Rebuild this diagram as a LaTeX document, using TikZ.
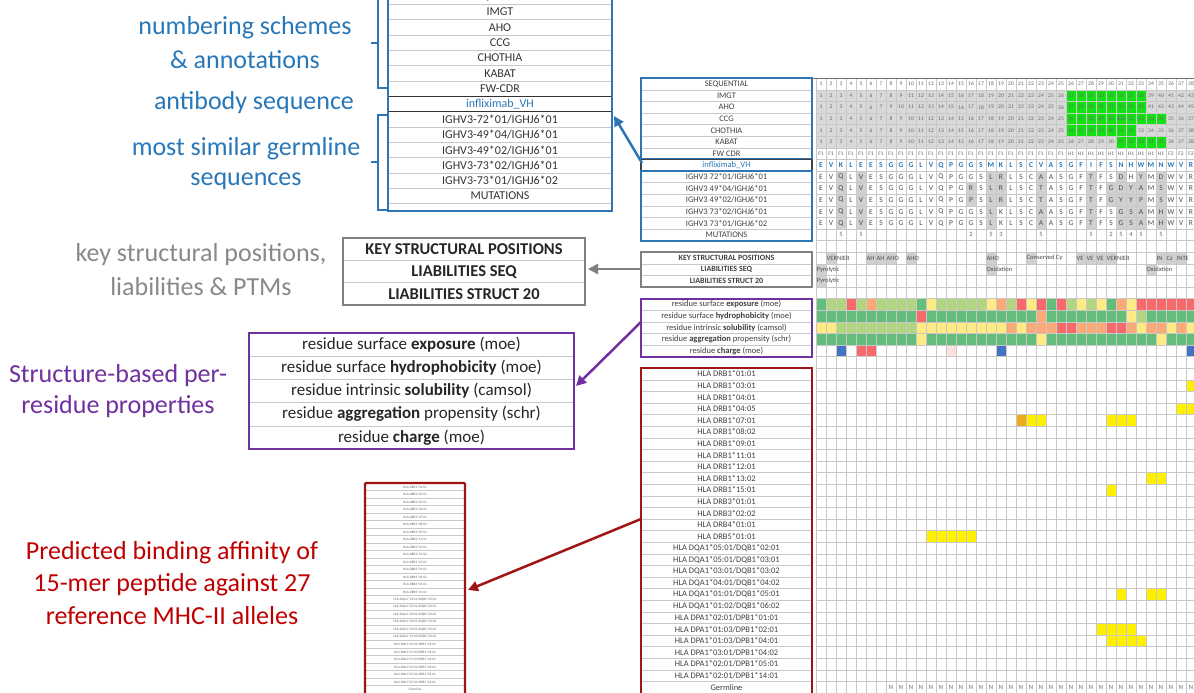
\documentclass[tikz,border=0pt]{standalone}
\usepackage{fontspec}
\setmainfont{Carlito}
\usetikzlibrary{arrows.meta}
\definecolor{blueC}{RGB}{46,117,182}
\definecolor{blueT}{RGB}{40,120,185}
\definecolor{grayT}{RGB}{137,137,137}
\definecolor{grayB}{RGB}{127,127,127}
\definecolor{purpC}{RGB}{112,48,160}
\definecolor{redT}{RGB}{192,0,0}
\definecolor{redB}{RGB}{160,20,20}
\definecolor{cellG}{RGB}{217,217,217}
\definecolor{shadeC}{RGB}{208,208,208}
\definecolor{grn}{RGB}{20,225,20}
\definecolor{hG}{RGB}{99,190,123}
\definecolor{hL}{RGB}{177,213,128}
\definecolor{hY}{RGB}{255,235,132}
\definecolor{hO}{RGB}{251,170,119}
\definecolor{hR}{RGB}{248,105,107}
\definecolor{hB}{RGB}{68,114,196}
\definecolor{hW}{RGB}{255,255,255}
\definecolor{hP}{RGB}{252,225,225}
\definecolor{yel}{RGB}{255,240,0}
\definecolor{org}{RGB}{240,170,30}
\definecolor{gridC}{RGB}{200,200,200}
\newcommand\cf[3]{\fill[#3] ({806+10*(#1)},{78.2+11.6*(#2)}) rectangle ++(10,11.6);}
\tikzset{
 bigtxt/.style={font=\fontsize{26}{30}\selectfont, inner sep=0pt},
 tltxt/.style={font=\fontsize{12}{12}\selectfont, text=black!80, inner sep=0pt},
 boxtxt/.style={font=\fontsize{17}{17}\selectfont, text=black!85, inner sep=0pt},
 lbl/.style={font=\fontsize{8.5}{8.5}\selectfont, text=black!75, inner sep=0pt},
 cellnum/.style={font=\fontsize{5.5}{5.5}\selectfont, text=black!60, inner sep=0pt},
 seqlet/.style={font=\fontsize{7.5}{7.5}\selectfont, text=black!70, inner sep=0pt},
 anntxt/.style={font=\fontsize{6.5}{6.5}\selectfont, text=black!70, inner sep=0pt, anchor=west},
 tinytxt/.style={font=\fontsize{3.4}{3.4}\selectfont, text=black!60, inner sep=0pt},
 arrowsty/.style={line width=2.5pt, -{Triangle[length=10pt,width=10pt]}},
}
\begin{document}
\begin{tikzpicture}[x=1pt,y=-1pt]
\useasboundingbox (0,0) rectangle (1194,693);
\clip (0,0) rectangle (1194,693);
\fill[white] (0,0) rectangle (1194,693);

% ================= right big table: fills =================
\fill[cellG] (816,{78.2+11.6}) rectangle (1196,{78.2+11.6*6});
\foreach \c in {26,...,33} {\cf{\c}{1}{grn}\cf{\c}{2}{grn}}
\foreach \c in {26,...,35} {\cf{\c}{3}{grn}}
\foreach \c in {26,...,32} {\cf{\c}{4}{grn}}
\foreach \c in {31,...,35} {\cf{\c}{5}{grn}}
% germline differences
\foreach \c/\r in {3/8,5/8,18/8,19/8,23/8,28/8,31/8,33/8,35/8,
  3/9,5/9,16/9,18/9,19/9,23/9,28/9,30/9,31/9,32/9,33/9,35/9,
  3/10,5/10,16/10,18/10,19/10,23/10,28/10,30/10,31/10,32/10,33/10,35/10,
  3/11,5/11,18/11,23/11,28/11,31/11,32/11,33/11,35/11,
  3/12,5/12,18/12,23/12,28/12,31/12,32/12,33/12,35/12} {\cf{\c}{\r}{shadeC}}
% key structural / liabilities
\foreach \c/\r in {2/15,6/15,7/15,8/15,10/15,18/15,22/15,27/15,28/15,29/15,30/15,35/15,36/15,37/15,1/16,18/16,34/16,1/17} {\cf{\c}{\r}{shadeC}}
% heatmaps
\foreach \h [count=\c] in {hG,hL,hL,hR,hL,hO,hL,hL,hL,hL,hG,hY,hL,hL,hL,hL,hL,hY,hO,hL,hR,hY,hR,hG,hR,hL,hY,hL,hY,hG,hO,hY,hR,hR,hR,hR,hR,hR} {\cf{\c}{19}{\h}}
\foreach \c in {1,...,38} {\cf{\c}{20}{hG}\cf{\c}{22}{hG}}
\cf{11}{20}{hR}\cf{23}{20}{hO}\cf{32}{20}{hY}\cf{33}{20}{hL}
\cf{11}{22}{hY}\cf{23}{22}{hY}\cf{35}{22}{hY}
\foreach \h [count=\c] in {hY,hY,hL,hL,hL,hL,hL,hL,hL,hL,hY,hY,hY,hY,hY,hY,hY,hY,hY,hO,hY,hO,hO,hO,hR,hR,hO,hO,hO,hR,hR,hO,hY,hO,hO,hY,hO,hY} {\cf{\c}{21}{\h}}
\cf{3}{23}{hB}\cf{5}{23}{hR}\cf{6}{23}{hR}\cf{14}{23}{hP}\cf{19}{23}{hB}\cf{38}{23}{hB}
% HLA predictions
\foreach \c/\r in {38/26,37/28,38/28,22/29,23/29,30/29,31/29,32/29,34/34,35/34,30/35,
  12/39,13/39,14/39,15/39,16/39,31/44,34/44,35/44,29/47,30/47,31/47,32/47,30/48,31/48,32/48,33/48} {\cf{\c}{\r}{yel}}
\cf{21}{29}{org}

% ================= grid =================
\foreach \r in {0,...,53} {\draw[gridC, line width=0.4pt] (816,{78.2+11.6*\r}) -- (1196,{78.2+11.6*\r});}
\foreach \c in {0,...,38} {\draw[gridC, line width=0.4pt] ({816+10*\c},78.2) -- ({816+10*\c},693);}
\draw[black!55, line width=0.8pt] (812,78.2) -- (1196,78.2);

% ================= cell texts =================
\foreach \c in {1,...,38} {\node[cellnum] at ({811+10*\c},84) {\c};}
\foreach \v [count=\c] in {1,2,3,4,5,6,7,8,9,11,12,13,14,15,16,17,18,19,20,21,22,23,24,25,26,27,28,29,30,35,36,37,38,39,40,41,42,43} {\node[cellnum] at ({811+10*\c},{84+11.6}) {\v};}
\foreach \v [count=\c] in {1,2,3,4,5,6,7,9,10,11,12,13,14,15,16,17,18,19,20,21,22,23,24,25,26,27,29,30,31,32,33,39,40,41,42,43,44,45} {\node[cellnum] at ({811+10*\c},{84+11.6*2}) {\v};}
\foreach \v [count=\c] in {1,2,3,4,5,6,7,8,9,10,11,12,13,14,15,16,17,18,19,20,21,22,23,24,25,26,27,28,29,30,30A,31,32,33,34,35,36,37} {\node[cellnum] at ({811+10*\c},{84+11.6*3}) {\v};}
\foreach \c in {1,...,38} {\node[cellnum] at ({811+10*\c},{84+11.6*4}) {\c}; \node[cellnum] at ({811+10*\c},{84+11.6*5}) {\c};}
\foreach \c in {1,...,25} {\node[cellnum] at ({811+10*\c},{84+11.6*6}) {F1};}
\foreach \c in {26,...,35} {\node[cellnum] at ({811+10*\c},{84+11.6*6}) {H1};}
\foreach \c in {36,37,38} {\node[cellnum] at ({811+10*\c},{84+11.6*6}) {F2};}
\foreach \l [count=\c] in {E,V,K,L,E,E,S,G,G,G,L,V,Q,P,G,G,S,M,K,L,S,C,V,A,S,G,F,I,F,S,N,H,W,M,N,W,V,R} {\node[seqlet, text=blueT, font=\fontsize{7.5}{7.5}\selectfont\bfseries] at ({811+10*\c},{84+11.6*7}) {\l};}
\foreach \l [count=\c] in {E,V,Q,L,V,E,S,G,G,G,L,V,Q,P,G,G,S,L,R,L,S,C,A,A,S,G,F,T,F,S,D,H,Y,M,D,W,V,R} {\node[seqlet] at ({811+10*\c},{84+11.6*8}) {\l};}
\foreach \l [count=\c] in {E,V,Q,L,V,E,S,G,G,G,L,V,Q,P,G,R,S,L,R,L,S,C,T,A,S,G,F,T,F,G,D,Y,A,M,S,W,V,R} {\node[seqlet] at ({811+10*\c},{84+11.6*9}) {\l};}
\foreach \l [count=\c] in {E,V,Q,L,V,E,S,G,G,G,L,V,Q,P,G,P,S,L,R,L,S,C,T,A,S,G,F,T,F,G,Y,Y,P,M,S,W,V,R} {\node[seqlet] at ({811+10*\c},{84+11.6*10}) {\l};}
\foreach \l [count=\c] in {E,V,Q,L,V,E,S,G,G,G,L,V,Q,P,G,G,S,L,K,L,S,C,A,A,S,G,F,T,F,S,G,S,A,M,H,W,V,R} {\node[seqlet] at ({811+10*\c},{84+11.6*11}) {\l}; \node[seqlet] at ({811+10*\c},{84+11.6*12}) {\l};}
\foreach \c/\v in {3/5,5/5,16/2,18/5,19/3,23/5,28/5,30/2,31/5,32/4,33/5,35/5} {\node[cellnum, font=\fontsize{6.5}{6.5}\selectfont] at ({811+10*\c},{84+11.6*13}) {\v};}
\foreach \c/\t in {2/VERNIER,6/AH,7/AH,8/AHO,10/AHO,18/AHO,22/Conserved Cy,27/VE,28/VE,29/VE,30/VERNIER,35/IN,36/Cz,37/INTE} {\node[anntxt] at ({806.5+10*\c},{84+11.6*15}) {\t};}
\foreach \c/\t in {1/Pyrolytic,18/Oxidation,34/Oxidation} {\node[anntxt] at ({806.5+10*\c},{84+11.6*16}) {\t};}
\node[anntxt] at (816.5,{84+11.6*17}) {Pyrolytic};
\foreach \c in {8,...,38} {\node[cellnum, font=\fontsize{6.5}{6.5}\selectfont] at ({811+10*\c},{84+11.6*52}) {N};}

% ================= right label column =================
\fill[white] (641,78.2) rectangle (812,693);
\foreach \r in {1,...,13,16,17,20,21,22,23,26,27,...,52} {\draw[gridC, line width=0.4pt] (641,{78.2+11.6*\r}) -- (812,{78.2+11.6*\r});}
\foreach \t [count=\i from 0] in {SEQUENTIAL,IMGT,AHO,CCG,CHOTHIA,KABAT,FW CDR} {\node[lbl] (R\i) at (726.5,{84+11.6*\i}) {\t};}
\node[lbl, text=blueT] (R7) at (726.5,{84+11.6*7}) {infliximab\_VH};
\foreach \t [count=\i from 8] in {IGHV3 72*01/IGHJ6*01,IGHV3 49*04/IGHJ6*01,IGHV3 49*02/IGHJ6*01,IGHV3 73*02/IGHJ6*01,IGHV3 73*01/IGHJ6*02,MUTATIONS} {\node[lbl] (R\i) at (726.5,{84+11.6*\i}) {\t};}
\node[lbl, font=\fontsize{8}{8}\selectfont\bfseries] (R15) at (726.5,{84+11.6*15}) {KEY STRUCTURAL POSITIONS};
\node[lbl, font=\fontsize{8}{8}\selectfont\bfseries] (R16) at (726.5,{84+11.6*16}) {LIABILITIES SEQ};
\node[lbl, font=\fontsize{8}{8}\selectfont\bfseries] (R17) at (726.5,{84+11.6*17}) {LIABILITIES STRUCT 20};
\node[lbl] (R19) at (726.5,{84+11.6*19}) {residue surface \textbf{exposure} (moe)};
\node[lbl] (R20) at (726.5,{84+11.6*20}) {residue surface \textbf{hydrophobicity} (moe)};
\node[lbl] (R21) at (726.5,{84+11.6*21}) {residue intrinsic \textbf{solubility} (camsol)};
\node[lbl] (R22) at (726.5,{84+11.6*22}) {residue \textbf{aggregation} propensity (schr)};
\node[lbl] (R23) at (726.5,{84+11.6*23}) {residue \textbf{charge} (moe)};
\foreach \t [count=\i from 25] in {HLA DRB1*01:01,HLA DRB1*03:01,HLA DRB1*04:01,HLA DRB1*04:05,HLA DRB1*07:01,HLA DRB1*08:02,HLA DRB1*09:01,HLA DRB1*11:01,HLA DRB1*12:01,HLA DRB1*13:02,HLA DRB1*15:01,HLA DRB3*01:01,HLA DRB3*02:02,HLA DRB4*01:01,HLA DRB5*01:01,HLA DQA1*05:01/DQB1*02:01,HLA DQA1*05:01/DQB1*03:01,HLA DQA1*03:01/DQB1*03:02,HLA DQA1*04:01/DQB1*04:02,HLA DQA1*01:01/DQB1*05:01,HLA DQA1*01:02/DQB1*06:02,HLA DPA1*02:01/DPB1*01:01,HLA DPA1*01:03/DPB1*02:01,HLA DPA1*01:03/DPB1*04:01,HLA DPA1*03:01/DPB1*04:02,HLA DPA1*02:01/DPB1*05:01,HLA DPA1*02:01/DPB1*14:01,Germline} {\node[lbl] (R\i) at (726.5,{84+11.6*\i}) {\t};}
\draw[blueC, line width=2pt] (641,78.2) rectangle (812,{78.2+11.6*7});
\draw[black!75, line width=1.2pt] (641,{78.2+11.6*7}) rectangle (812,{78.2+11.6*8});
\draw[blueC, line width=2pt] (641,{78.2+11.6*8}) rectangle (812,{78.2+11.6*14});
\draw[grayB, line width=2pt] (641,{78.2+11.6*15}) rectangle (812,{78.2+11.6*18});
\draw[purpC, line width=2pt] (641,{78.2+11.6*19}) rectangle (812,{78.2+11.6*24});
\draw[redB, line width=2pt] (641,{78.2+11.6*25}) rectangle (812,{78.2+11.6*53+3});

% ================= top-left table =================
\foreach \k in {1,...,14} {\draw[gridC, line width=0.5pt] (388,{-11+15.33*\k}) -- (612,{-11+15.33*\k});}
\foreach \t [count=\k from 0] in {SEQUENTIAL,IMGT,AHO,CCG,CHOTHIA,KABAT,FW-CDR} {\node[tltxt] (T\k) at (500,{-3.3+15.33*\k}) {\t};}
\node[tltxt, text=blueT] (T7) at (500,{-3.3+15.33*7}) {infliximab\_VH};
\foreach \t [count=\k from 8] in {IGHV3-72*01/IGHJ6*01,IGHV3-49*04/IGHJ6*01,IGHV3-49*02/IGHJ6*01,IGHV3-73*02/IGHJ6*01,IGHV3-73*01/IGHJ6*02,MUTATIONS} {\node[tltxt] (T\k) at (500,{-3.3+15.33*\k}) {\t};}
\draw[black!80, line width=1.2pt] (388,{-11+15.33*7}) rectangle (612,{-11+15.33*8});
\draw[blueC, line width=2.2pt] (388,-5) rectangle (612,211);
\draw[blueC, line width=2.5pt] (387,-5) -- (378,-5) -- (378,88) -- (387,88);
\draw[blueC, line width=2.5pt] (378,43) -- (371,43);
\draw[blueC, line width=2.5pt] (387,115) -- (378,115) -- (378,210) -- (387,210);
\draw[blueC, line width=2.5pt] (378,162) -- (371,162);

% ================= left annotations =================
\node[bigtxt, text=blueT] (nA) at (245,28) {numbering schemes};
\node[bigtxt, text=blueT] (nB) at (245,60) {\& annotations};
\node[bigtxt, text=blueT] (nC) at (254,103) {antibody sequence};
\node[bigtxt, text=blueT] (nD) at (246,149) {most similar germline};
\node[bigtxt, text=blueT] (nE) at (246,181) {sequences};
\node[bigtxt, text=grayT] (kA) at (201,255) {key structural positions,};
\node[bigtxt, text=grayT] (kB) at (201,287) {liabilities \& PTMs};
\node[bigtxt, text=purpC] (sA) at (118,376) {Structure-based per-};
\node[bigtxt, text=purpC] (sB) at (118,407) {residue properties};
\node[bigtxt, text=redT] (pA) at (172,553) {Predicted binding affinity of};
\node[bigtxt, text=redT] (pB) at (172,585) {15-mer peptide against 27};
\node[bigtxt, text=redT] (pC) at (172,616) {reference MHC-II alleles};

% key structural box
\draw[gridC, line width=0.6pt] (343,260.3) -- (585,260.3) (343,282.6) -- (585,282.6);
\node[boxtxt, font=\fontsize{16.5}{16.5}\selectfont\bfseries] (K1) at (464,249.5) {KEY STRUCTURAL POSITIONS};
\node[boxtxt, font=\fontsize{16.5}{16.5}\selectfont\bfseries] (K2) at (464,272) {LIABILITIES SEQ};
\node[boxtxt, font=\fontsize{16.5}{16.5}\selectfont\bfseries] (K3) at (464,294.5) {LIABILITIES STRUCT 20};
\draw[grayB, line width=2.2pt] (343,238) rectangle (585,305);

% residue box
\foreach \k in {1,...,4} {\draw[gridC, line width=0.6pt] (249,{333+23.2*\k}) -- (574,{333+23.2*\k});}
\node[boxtxt] (P1) at (411.5,344.6) {residue surface \textbf{exposure} (moe)};
\node[boxtxt] (P2) at (411.5,367.8) {residue surface \textbf{hydrophobicity} (moe)};
\node[boxtxt] (P3) at (411.5,391) {residue intrinsic \textbf{solubility} (camsol)};
\node[boxtxt] (P4) at (411.5,414.2) {residue \textbf{aggregation} propensity (schr)};
\node[boxtxt] (P5) at (411.5,437.4) {residue \textbf{charge} (moe)};
\draw[purpC, line width=2.5pt] (249,333) rectangle (574,449);

% small red table
\foreach \k in {1,...,28} {\draw[gridC, line width=0.4pt] (366,{483+7.5*\k}) -- (464,{483+7.5*\k});}
\foreach \t [count=\i from 0] in {HLA-DRB1*01:01,HLA-DRB1*03:01,HLA-DRB1*04:01,HLA-DRB1*04:05,HLA-DRB1*07:01,HLA-DRB1*08:02,HLA-DRB1*09:01,HLA-DRB1*11:01,HLA-DRB1*12:01,HLA-DRB1*13:02,HLA-DRB1*15:01,HLA-DRB3*01:01,HLA-DRB3*02:02,HLA-DRB4*01:01,HLA-DRB5*01:01,HLA-DQA1*05:01/DQB1*02:01,HLA-DQA1*05:01/DQB1*03:01,HLA-DQA1*03:01/DQB1*03:02,HLA-DQA1*04:01/DQB1*04:02,HLA-DQA1*01:01/DQB1*05:01,HLA-DQA1*01:02/DQB1*06:02,HLA-DPA1*02:01/DPB1*01:01,HLA-DPA1*01:03/DPB1*02:01,HLA-DPA1*01:03/DPB1*04:01,HLA-DPA1*03:01/DPB1*04:02,HLA-DPA1*02:01/DPB1*05:01,HLA-DPA1*02:01/DPB1*14:01,Germline} {\node[tinytxt] (S\i) at (415,{487+7.5*\i}) {\t};}
\draw[redB, line width=2.2pt, rounded corners=1pt] (365,483) rectangle (465,700);

% ================= arrows =================
\coordinate (bA) at (642,163);
\coordinate (bB) at (614,116);
\coordinate (gA) at (641,269);
\coordinate (gB) at (588,269);
\coordinate (uA) at (641,322);
\coordinate (uB) at (576,386);
\coordinate (rA) at (641,519);
\coordinate (rB) at (468,590);
\draw[arrowsty, blueC] (bA) -- (bB);
\draw[arrowsty, grayB] (gA) -- (gB);
\draw[arrowsty, purpC] (uA) -- (uB);
\draw[arrowsty, redB] (rA) -- (rB);
\end{tikzpicture}
\end{document}
